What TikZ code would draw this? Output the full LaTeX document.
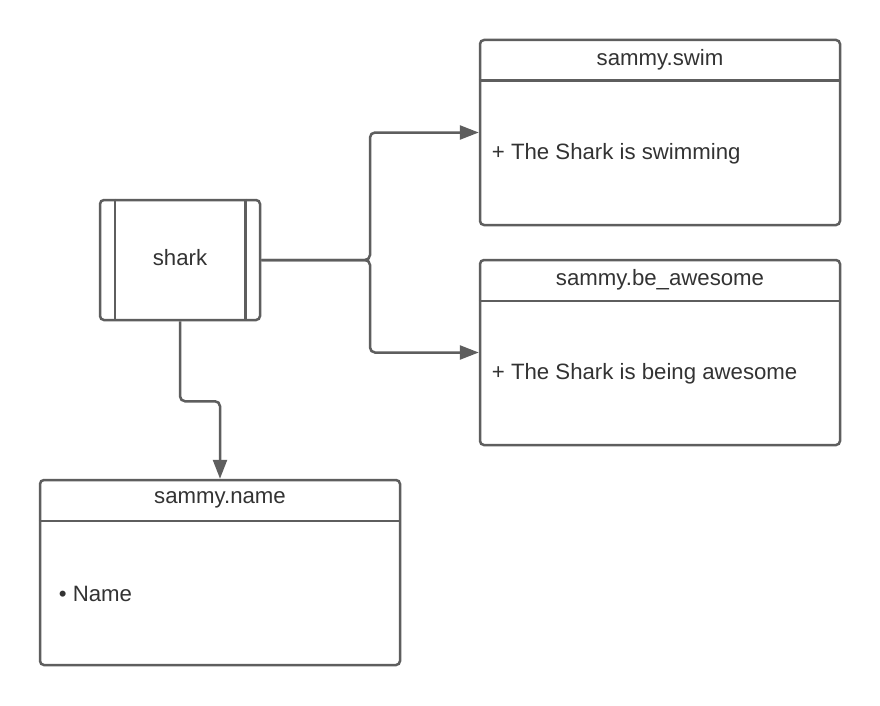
\documentclass[tikz,border=0pt]{standalone}
\usepackage{fontspec}
\setmainfont{Liberation Sans}
\usetikzlibrary{arrows.meta}
\definecolor{lc}{HTML}{5E5E5E}
\definecolor{tc}{HTML}{333333}
\tikzset{
  ln/.style={draw=lc, line width=2.5pt},
  umlbox/.style={ln, rectangle, rounded corners=4pt, minimum width=360pt, minimum height=185pt, inner sep=0pt},
  procbox/.style={ln, rectangle, rounded corners=4pt, minimum width=160pt, minimum height=120pt, inner sep=0pt},
  txt/.style={text=tc, inner sep=0pt, font=\fontsize{22.2}{26}\selectfont},
  conn/.style={ln, rounded corners=5pt, -{Triangle[length=19pt,width=14pt]}},
}
\begin{document}
\begin{tikzpicture}[x=1pt,y=-1pt]
\useasboundingbox[fill=white] (0,0) rectangle (880,706);
% boxes
\node[umlbox] (swim) at (660,132.5) {};
\node[umlbox] (awe) at (660,352.5) {};
\node[umlbox] (name) at (220,572.5) {};
\node[procbox] (shark) at (180,260) {};
% dividers
\draw[ln] ([yshift=-42pt]swim.north west) coordinate (swdl) -- ([yshift=-42pt]swim.north east) coordinate (swdr);
\draw[ln] ([yshift=-42pt]awe.north west) coordinate (awdl) -- ([yshift=-42pt]awe.north east) coordinate (awdr);
\draw[ln] ([yshift=-42pt]name.north west) coordinate (nmdl) -- ([yshift=-42pt]name.north east) coordinate (nmdr);
% shark inner bars
\draw[ln] ([xshift=16pt]shark.north west) coordinate (sb1) -- ([xshift=16pt]shark.south west) coordinate (sb2);
\draw[ln] ([xshift=-16pt]shark.north east) coordinate (sb3) -- ([xshift=-16pt]shark.south east) coordinate (sb4);
% texts
\node[txt] (swimt) at ([yshift=-21.5pt]swim.north) {sammy.swim};
\node[txt] (awet) at ([yshift=-21.5pt]awe.north) {sammy.be\_awesome};
\node[txt] (namet) at ([yshift=-21.5pt]name.north) {sammy.name};
\node[txt, anchor=west] (swimb) at ([xshift=13pt,yshift=-21pt]swim.west) {+ The Shark is swimming};
\node[txt, anchor=west] (aweb) at ([xshift=13pt,yshift=-21pt]awe.west) {+ The Shark is being awesome};
\node[txt, anchor=west] (nameb) at ([xshift=20pt,yshift=-21pt]name.west) {• Name};
\node[txt] (sharkt) at ([yshift=2pt]shark.center) {shark};
% connectors
\coordinate (br) at (370,260);
\draw[conn] (shark.east) -- (br) |- (swim.west);
\draw[conn] (shark.east) -- (br) |- (awe.west);
\draw[conn] (shark.south) -- ++(0,80) -| (name.north);
\end{tikzpicture}
\end{document}
